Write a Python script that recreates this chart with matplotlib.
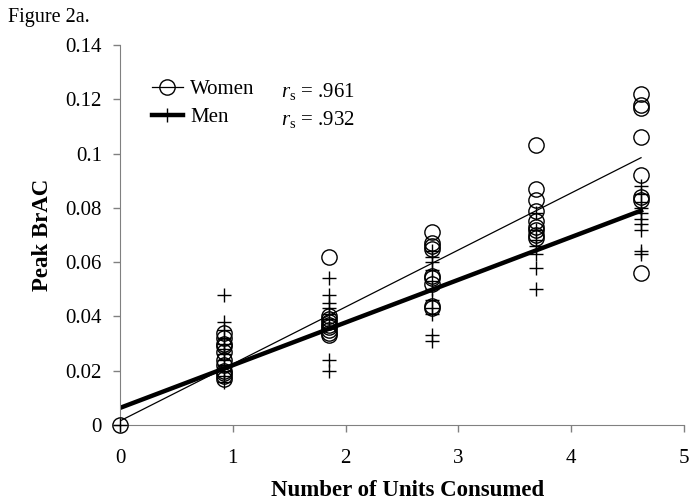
"""Figure 2a: peak BrAC vs number of units consumed, women vs men."""
import matplotlib
matplotlib.use("Agg")
import matplotlib.pyplot as plt
from matplotlib.lines import Line2D

plt.rcParams["font.family"] = ["Liberation Serif", "DejaVu Serif"]
plt.rcParams["mathtext.fontset"] = "custom"
plt.rcParams["mathtext.it"] = "Liberation Serif:italic"
plt.rcParams["mathtext.rm"] = "Liberation Serif"

# dose levels (x positions of the clusters)
DOSES = [0, 0.92, 1.85, 2.77, 3.69, 4.62]

# peak BrAC readings per dose level
women = [
    [0.0],
    [0.034, 0.032, 0.030, 0.029, 0.027, 0.024, 0.022, 0.020, 0.019, 0.018, 0.017],
    [0.062, 0.040, 0.039, 0.038, 0.037, 0.036, 0.035, 0.034, 0.033],
    [0.071, 0.067, 0.066, 0.065, 0.055, 0.054, 0.052, 0.044, 0.043],
    [0.103, 0.087, 0.083, 0.079, 0.075, 0.073, 0.072, 0.070, 0.069],
    [0.122, 0.118, 0.117, 0.106, 0.092, 0.084, 0.083, 0.056],
]
men = [
    [0.0],
    [0.048, 0.038, 0.035, 0.032, 0.030, 0.028, 0.026, 0.024, 0.022, 0.020, 0.018, 0.016],
    [0.054, 0.048, 0.045, 0.043, 0.041, 0.039, 0.024, 0.020],
    [0.064, 0.062, 0.060, 0.057, 0.053, 0.050, 0.046, 0.043, 0.041, 0.033, 0.031],
    [0.078, 0.072, 0.068, 0.066, 0.063, 0.058, 0.050],
    [0.088, 0.085, 0.082, 0.080, 0.078, 0.076, 0.074, 0.072, 0.064, 0.063],
]

# trend lines (endpoints)
women_fit_x = [0, 4.62]
women_fit_y = [0.0015, 0.0985]
men_fit_x = [0, 4.62]
men_fit_y = [0.0063, 0.079]

RS_WOMEN = ".961"
RS_MEN = ".932"

fig = plt.figure(figsize=(6.95, 5.01), dpi=100)
ax = fig.add_axes([0.1727, 0.1517, 0.984 - 0.1727, 0.910 - 0.1517])

for x, vals in zip(DOSES, women):
    ax.plot([x] * len(vals), vals, "o", ms=11, mfc="none", mec="black", mew=1.0,
            zorder=3, clip_on=False)
for x, vals in zip(DOSES, men):
    ax.plot([x] * len(vals), vals, "+", ms=10.5, mec="black", mew=1.0, zorder=3,
            clip_on=False)

ax.plot(women_fit_x, women_fit_y, color="black", lw=0.9, zorder=2)
ax.plot(men_fit_x, men_fit_y, color="black", lw=3.2, zorder=2)

ax.set_xlim(0, 5)
ax.set_ylim(0, 0.14)
ax.set_xticks([0, 1, 2, 3, 4, 5])
ax.set_yticks([0, 0.02, 0.04, 0.06, 0.08, 0.1, 0.12, 0.14])
ax.set_yticklabels(["0", "0.02", "0.04", "0.06", "0.08", "0.1", "0.12", "0.14"])
ax.tick_params(labelsize=15, direction="out", length=5, color="#808080", width=1)
ax.tick_params(axis="y", pad=8)
ax.tick_params(axis="x", pad=12)
for side in ("top", "right"):
    ax.spines[side].set_visible(False)
for side in ("left", "bottom"):
    ax.spines[side].set_color("#808080")

ax.set_xlabel("Number of Units Consumed", fontsize=16.5, fontweight="bold", labelpad=7)
ax.xaxis.set_label_coords(0.51, -0.145)
ax.set_ylabel("Peak BrAC", fontsize=16.5, fontweight="bold", labelpad=9)

handles = [
    Line2D([], [], color="black", lw=0.9, marker="o", ms=11, mfc="none", mec="black"),
    Line2D([], [], color="black", lw=3.2, marker="+", ms=10.5, mec="black"),
]
ax.legend(handles, ["Women", "Men"], loc="upper left", bbox_to_anchor=(0.03, 0.948),
          frameon=False, fontsize=15, handlelength=1.5, handletextpad=0.35,
          labelspacing=0.4, borderpad=0.2)

ax.text(0.285, 0.879, rf"$r_\mathrm{{s}}$ = {RS_WOMEN}", transform=ax.transAxes,
        fontsize=15, ha="left", va="center")
ax.text(0.285, 0.803, rf"$r_\mathrm{{s}}$ = {RS_MEN}", transform=ax.transAxes,
        fontsize=15, ha="left", va="center")

fig.text(0.012, 0.965, "Figure 2a.", fontsize=14.5, ha="left", va="center")

fig.savefig("out.png", dpi=100)
